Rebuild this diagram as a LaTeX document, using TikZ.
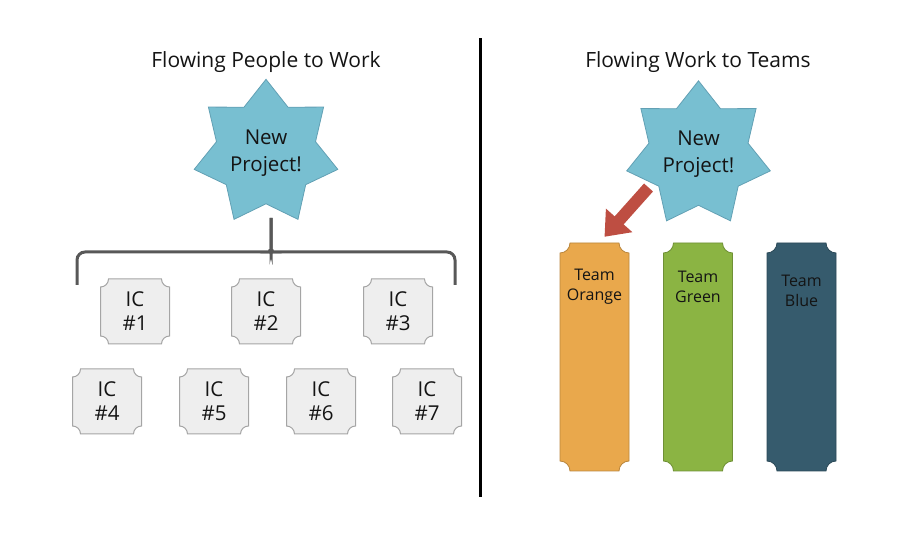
\documentclass[tikz,border=0pt]{standalone}
\usepackage{fontspec}
\setmainfont{Open Sans}
\usetikzlibrary{shapes.geometric,arrows.meta}

\definecolor{starblue}{RGB}{120,191,209}
\definecolor{starline}{RGB}{98,160,180}
\definecolor{icgray}{RGB}{238,238,238}
\definecolor{icline}{RGB}{165,165,165}
\definecolor{braceline}{RGB}{88,88,88}
\definecolor{arrowred}{RGB}{190,78,66}
\definecolor{teamorange}{RGB}{233,168,76}
\definecolor{teamgreen}{RGB}{139,180,67}
\definecolor{teamblue}{RGB}{54,91,109}
\definecolor{textdark}{RGB}{20,20,20}

\newcommand{\titlefont}{\fontsize{21}{25}\selectfont}
\newcommand{\starfont}{\fontsize{20.5}{27}\selectfont}
\newcommand{\icfont}{\fontsize{20.5}{24}\selectfont}
\newcommand{\teamfont}{\fontsize{16}{20}\selectfont}

\tikzset{
  plaque radius/.store in=\plaqueradius, plaque radius=8pt,
  % rectangle with concave (cut-in) corners
  plaque/.style={path picture={
    \filldraw[#1]
      ([shift={(\plaqueradius+1pt,-1pt)}]path picture bounding box.north west)
      -- ([shift={(-\plaqueradius-1pt,-1pt)}]path picture bounding box.north east)
      arc[start angle=180, end angle=270, radius=\plaqueradius]
      -- ([shift={(-1pt,\plaqueradius+1pt)}]path picture bounding box.south east)
      arc[start angle=90, end angle=180, radius=\plaqueradius]
      -- ([shift={(\plaqueradius+1pt,1pt)}]path picture bounding box.south west)
      arc[start angle=0, end angle=90, radius=\plaqueradius]
      -- ([shift={(1pt,-\plaqueradius-1pt)}]path picture bounding box.north west)
      arc[start angle=270, end angle=360, radius=\plaqueradius]
      -- cycle;
  }},
  newproject/.style={star, star points=7, star point ratio=1.45,
    minimum size=136pt, inner sep=0pt, fill=starblue, draw=starline,
    line width=0.8pt, align=center, text=textdark, font=\starfont},
  icbox/.style={plaque={fill=icgray, draw=icline, line width=1pt},
    minimum width=71pt, minimum height=67pt, inner sep=0pt,
    align=center, text=textdark, font=\icfont},
  teambox/.style={plaque radius=10pt,
    plaque={fill=#1, draw=#1!80!black, line width=0.8pt},
    minimum width=71pt, minimum height=230pt, inner sep=0pt},
  teamlbl/.style={align=center, text=textdark, font=\teamfont},
  title/.style={text=textdark, font=\titlefont},
  brace/.style={draw=braceline, line width=3pt, rounded corners=8pt},
  projarrow/.style={draw=arrowred, line width=12pt,
    -{Triangle[length=22pt,width=34pt]}},
}

\begin{document}
\begin{tikzpicture}[x=1pt, y=1pt]
  \useasboundingbox (0,0) rectangle (900,537);

  % The titles
  \node[title] (titleL) at (266,475) {Flowing People to Work};
  \node[title] (titleR) at (698,475) {Flowing Work to Teams};

  % The divider
  \draw[black, line width=3pt] (480,40) -- (480,499);

  % Left: the new project
  \node[newproject] (newL) at (266,384) {New\\Project!};

  % The brace below it
  \draw[brace] (77,252) |- (264,285) to[out=0, in=270] (271,293) -- (271,319);
  \draw[brace] (455,252) |- (278,285) to[out=180, in=270] (271,293) -- (271,319);

  % The ICs
  \node[icbox] (ic1) at (135,225.5) {IC\\\#1};
  \node[icbox] (ic2) at (266,225.5) {IC\\\#2};
  \node[icbox] (ic3) at (398,225.5) {IC\\\#3};
  \node[icbox] (ic4) at (107,135.5) {IC\\\#4};
  \node[icbox] (ic5) at (214,135.5) {IC\\\#5};
  \node[icbox] (ic6) at (321,135.5) {IC\\\#6};
  \node[icbox] (ic7) at (427,135.5) {IC\\\#7};

  % Right: the new project
  \node[newproject] (newR) at (698.5,382.5) {New\\Project!};

  % The teams
  \node[teambox=teamorange] (orange) at (594.5,180) {};
  \node[teambox=teamgreen] (green) at (698,180) {};
  \node[teambox=teamblue] (blue) at (801.5,180) {};
  \node[teamlbl] (orangelbl) at ([yshift=-45pt]orange.north) {Team\\Orange};
  \node[teamlbl] (greenlbl) at ([yshift=-45pt]green.north) {Team\\Green};
  \node[teamlbl] (bluelbl) at ([yshift=-49pt]blue.north) {Team\\Blue};

  % The project goes to one team
  \coordinate (arrowtail) at ([shift={(-50pt,-33pt)}]newR.center);
  \draw[projarrow] (arrowtail) -- ([shift={(10pt,5pt)}]orange.north);

\end{tikzpicture}
\end{document}
